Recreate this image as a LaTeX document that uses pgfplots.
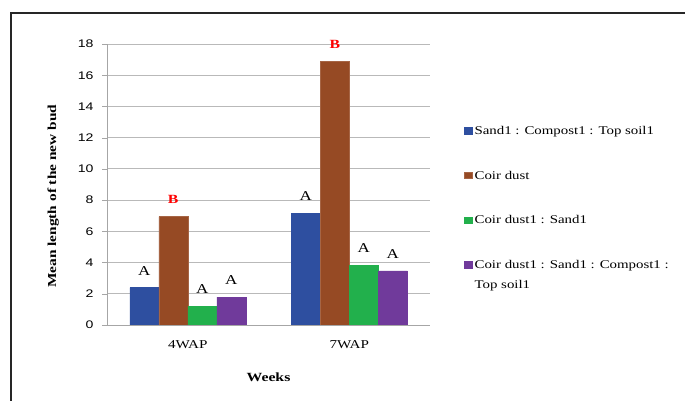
\documentclass[border=0pt]{standalone}
\usepackage{fontspec}
\setmainfont[FakeStretch=1.26]{Liberation Serif}
\setsansfont[FakeStretch=1.28]{Liberation Sans}
\usepackage{pgfplots}
\pgfplotsset{compat=1.18}
\definecolor{cblue}{RGB}{46,79,160}
\definecolor{cbrown}{RGB}{150,74,36}
\definecolor{cgreen}{RGB}{34,176,76}
\definecolor{cpurple}{RGB}{112,58,155}
\begin{document}
\begin{tikzpicture}[x=1pt,y=1pt]
\useasboundingbox (0,0) rectangle (685,401);
\draw[line width=1.8pt, black!85] (11,0) -- (11,388) -- (686,388);
\begin{axis}[
 at={(107pt,76pt)}, anchor=south west, scale only axis,
 width=323pt, height=281pt,
 ybar=0pt, bar width=29pt,
 xmin=-0.5, xmax=1.5, ymin=0, ymax=18,
 xtick={0,1}, xticklabels={4WAP,7WAP},
 ytick={0,2,...,18},
 axis x line*=bottom, axis y line*=left,
 axis line style={-, draw=gray!70},
 x axis line style={draw=gray!70},
 xtick style={draw=none},
 ytick style={draw=gray!70},
 tick align=outside, major tick length=5pt,
 ymajorgrids, grid style={gray!55, line width=0.8pt},
 /pgf/number format/assume math mode=true,
 yticklabel style={font=\sffamily\fontsize{11}{13}\selectfont, xshift=-5pt},
 xticklabel style={font=\fontsize{12}{14}\selectfont, yshift=-7pt},
 ylabel={Mean length of the new bud},
 ylabel style={at={(axis description cs:-0.167,0.458)}, rotate=0, anchor=center, font=\bfseries\fontsize{12.2}{14}\selectfont},
 xlabel={Weeks},
 xlabel style={at={(axis description cs:0.5,-0.185)}, anchor=center, font=\bfseries\fontsize{12.5}{15}\selectfont},
 legend style={at={(axis description cs:1.096,0.722)}, anchor=north west, draw=none, fill=none,
   font=\fontsize{11.8}{20}\selectfont, row sep=31pt,
   nodes={inner sep=2pt, anchor=base west}},
 legend cell align=left,
 legend image code/.code={\fill[#1] (0pt,0.5pt) rectangle (8pt,7pt);},
 point meta=explicit symbolic,
 nodes near coords,
 every node near coord/.append style={anchor=center, yshift=17pt, font=\fontsize{13.5}{15}\selectfont},
]
\addplot[fill=cblue, draw=cblue] coordinates {(0,2.39) [A] (1,7.17) [A]};
\addplot[fill=cbrown, draw=cbrown!85!white, every node near coord/.append style={text=red, font=\bfseries\fontsize{12.5}{15}\selectfont}] coordinates {(0,6.94) [B] (1,16.89) [B]};
\addplot[fill=cgreen, draw=cgreen] coordinates {(0,1.20) [A] (1,3.82) [A]};
\addplot[fill=cpurple, draw=cpurple] coordinates {(0,1.79) [A] (1,3.46) [A]};
\legend{Sand1 : Compost1 : Top soil1, Coir dust, Coir dust1 : Sand1, {\vtop{\baselineskip=20pt\hbox{Coir dust1 : Sand1 : Compost1 :}\hbox{Top soil1}}}}
\end{axis}
\end{tikzpicture}
\end{document}
